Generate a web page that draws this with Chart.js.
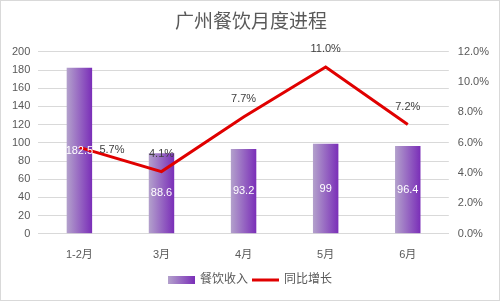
<!DOCTYPE html>
<html lang="zh">
<head>
  <meta charset="UTF-8">
  <title>广州餐饮月度进程</title>
  <script src="https://cdn.jsdelivr.net/npm/chart.js"></script>
  <style>
    body { margin: 0; padding: 0; background: #fff; }
    #wrap { width: 500px; height: 301px; }
  </style>
</head>
<body>
  <div id="wrap"><canvas id="myChart" width="500" height="301"></canvas></div>
  <script>
    const months = ['1-2月', '3月', '4月', '5月', '6月'];
    const revenue = [182.5, 88.6, 93.2, 99, 96.4];
    const growth = [5.7, 4.1, 7.7, 11.0, 7.2];

    const FONT = "'Liberation Sans', 'Noto Sans CJK SC', sans-serif";
    const TEXT = '#595959';

    function barGradient(context) {
      const chart = context.chart;
      if (!chart.chartArea || context.type !== 'data') return '#8a5cc0';
      const x = chart.scales.x.getPixelForValue(context.dataIndex);
      const half = (chart.scales.x.width / months.length) * 0.31 / 2;
      const g = chart.ctx.createLinearGradient(x - half, 0, x + half, 0);
      g.addColorStop(0, '#b3a1cc');
      g.addColorStop(1, '#7a2eb8');
      return g;
    }

    // labels on bars and line points, plus the bottom legend and the frame
    const extras = {
      id: 'extras',
      beforeDraw(chart) {
        const ctx = chart.ctx;
        ctx.save();
        ctx.fillStyle = '#fff';
        ctx.fillRect(0, 0, chart.width, chart.height);
        ctx.restore();
      },
      afterDatasetsDraw(chart) {
        const ctx = chart.ctx;
        ctx.save();
        ctx.font = '11px ' + FONT;
        ctx.textBaseline = 'middle';
        chart.getDatasetMeta(0).data.forEach((bar, i) => {
          ctx.fillStyle = '#ffffff';
          ctx.textAlign = 'center';
          ctx.fillText(String(revenue[i]), bar.x, (bar.y + bar.base) / 2);
        });
        chart.getDatasetMeta(1).data.forEach((pt, i) => {
          ctx.fillStyle = '#404040';
          const txt = growth[i].toFixed(1) + '%';
          if (i === 0) {
            ctx.textAlign = 'left';
            ctx.fillText(txt, pt.x + 20, pt.y + 3);
          } else {
            ctx.textAlign = 'center';
            ctx.fillText(txt, pt.x, pt.y - 18);
          }
        });
        ctx.restore();
      },
      afterDraw(chart) {
        const ctx = chart.ctx;
        ctx.save();
        ctx.font = '12px ' + FONT;
        ctx.textBaseline = 'middle';
        const t1 = '餐饮收入', t2 = '同比增长';
        const w1 = ctx.measureText(t1).width, w2 = ctx.measureText(t2).width;
        const sw = 27, gap = 5;
        const total = sw + gap + w1 + 4 + sw + gap + w2;
        let x = (chart.width - total) / 2;
        const y = 280;
        const g = ctx.createLinearGradient(x, 0, x + sw, 0);
        g.addColorStop(0, '#b3a1cc');
        g.addColorStop(1, '#7a2eb8');
        ctx.fillStyle = g;
        ctx.fillRect(x, y - 4, sw, 8);
        x += sw + gap;
        ctx.fillStyle = TEXT;
        ctx.textAlign = 'left';
        ctx.fillText(t1, x, y);
        x += w1 + 4;
        ctx.strokeStyle = '#e00000';
        ctx.lineWidth = 3;
        ctx.beginPath();
        ctx.moveTo(x, y);
        ctx.lineTo(x + sw, y);
        ctx.stroke();
        x += sw + gap;
        ctx.fillText(t2, x, y);
        ctx.strokeStyle = '#d9d9d9';
        ctx.lineWidth = 1;
        ctx.strokeRect(0.5, 0.5, chart.width - 1, chart.height - 1);
        ctx.restore();
      }
    };

    const ctx = document.getElementById('myChart').getContext('2d');
    new Chart(ctx, {
      data: {
        labels: months,
        datasets: [
          {
            type: 'bar',
            label: '餐饮收入',
            data: revenue,
            yAxisID: 'y',
            backgroundColor: barGradient,
            categoryPercentage: 1,
            barPercentage: 0.31,
            order: 1
          },
          {
            type: 'line',
            label: '同比增长',
            data: growth,
            yAxisID: 'y1',
            borderColor: '#e00000',
            borderWidth: 3,
            pointRadius: 0,
            tension: 0,
            order: 0
          }
        ]
      },
      options: {
        responsive: false,
        animation: false,
        layout: { padding: { left: 4, right: 2, top: 0, bottom: 32 } },
        plugins: {
          legend: { display: false },
          tooltip: { enabled: false },
          title: {
            display: true,
            text: '广州餐饮月度进程',
            color: TEXT,
            font: { family: FONT, size: 19, weight: 'normal' },
            padding: { top: 11, bottom: 18 }
          }
        },
        scales: {
          x: {
            grid: { display: false },
            border: { color: '#d9d9d9' },
            ticks: { color: TEXT, font: { family: FONT, size: 11 }, padding: 7 }
          },
          y: {
            position: 'left',
            min: 0,
            max: 200,
            ticks: { stepSize: 20, color: TEXT, font: { family: FONT, size: 11 }, padding: 8 },
            grid: { color: '#d9d9d9', drawTicks: false },
            border: { display: false }
          },
          y1: {
            position: 'right',
            min: 0,
            max: 12,
            ticks: {
              stepSize: 2,
              color: TEXT,
              font: { family: FONT, size: 11 },
              padding: 9,
              callback: v => v.toFixed(1) + '%'
            },
            grid: { display: false, drawTicks: false },
            border: { display: false }
          }
        }
      },
      plugins: [extras]
    });
  </script>
</body>
</html>
